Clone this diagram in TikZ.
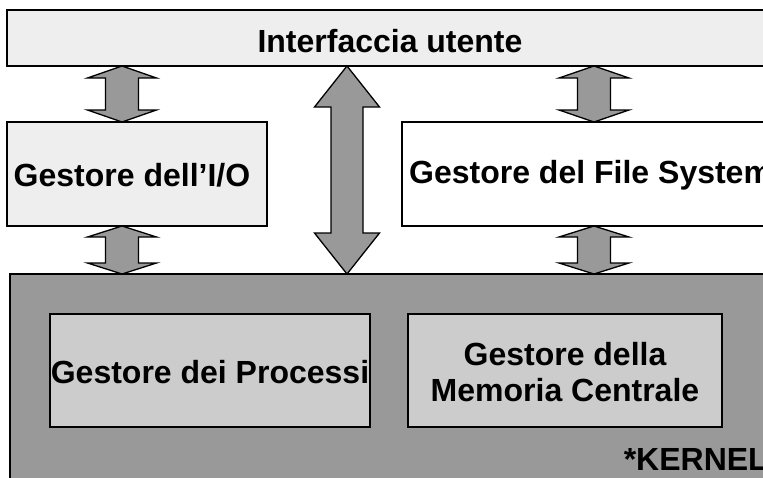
\documentclass[tikz,border=0pt]{standalone}
\usepackage{fontspec}
\setmainfont{Liberation Sans}
\definecolor{lightbox}{HTML}{EEEEEE}
\definecolor{kernelgray}{HTML}{999999}
\definecolor{innergray}{HTML}{CCCCCC}
\newcommand\vdarrow[6]{%
  \draw[dblarr] (#1,#2) -- (#1+#5,#2+#6) -- (#1+#4,#2+#6) -- (#1+#4,#3-#6)
    -- (#1+#5,#3-#6) -- (#1,#3) -- (#1-#5,#3-#6) -- (#1-#4,#3-#6)
    -- (#1-#4,#2+#6) -- (#1-#5,#2+#6) -- cycle;}
\begin{document}
\begin{tikzpicture}[x=1pt,y=-1pt,
  boxline/.style={draw=black,line width=1.3pt},
  dblarr/.style={draw=black,line width=1.3pt,fill=kernelgray,line join=miter},
  lbl/.style={font=\fontsize{32}{37}\selectfont\bfseries,inner sep=0pt,align=center}]
\useasboundingbox (0,0) rectangle (763,477);
\clip (0,0) rectangle (763,477);
\fill[white] (0,0) rectangle (763,477);
% top bar
\draw[boxline,fill=lightbox] (7,10) rectangle (775,66);
\node[lbl] (ui) at (390,41) {Interfaccia utente};
% I/O box
\draw[boxline,fill=lightbox] (7,122) rectangle (267,226);
\node[lbl] (io) at (132,175) {Gestore dell’I/O};
% File system box
\draw[boxline,fill=white] (402,122) rectangle (790,226);
\node[lbl,anchor=west] (fs) at (409,175) {Gestore del File System};
% kernel
\draw[boxline,fill=kernelgray] (10,274) rectangle (790,490);
\draw[boxline,fill=innergray] (50,314) rectangle (370,427);
\node[lbl] (proc) at (210,372) {Gestore dei Processi};
\draw[boxline,fill=innergray] (408,314) rectangle (722,427);
\node[lbl] (mem) at (565,372) {Gestore della\\[-1pt]Memoria Centrale};
\node[lbl,anchor=base east] (kern) at (768,470) {*KERNEL};
% arrows
\vdarrow{122}{66}{122}{16.5}{34.5}{12}
\vdarrow{122}{226}{274}{16.5}{34.5}{11}
\vdarrow{594}{66}{122}{16.5}{35}{12}
\vdarrow{594}{226}{274}{16.5}{35}{11}
\vdarrow{347}{66}{274}{16}{32.5}{41}
\end{tikzpicture}
\end{document}
